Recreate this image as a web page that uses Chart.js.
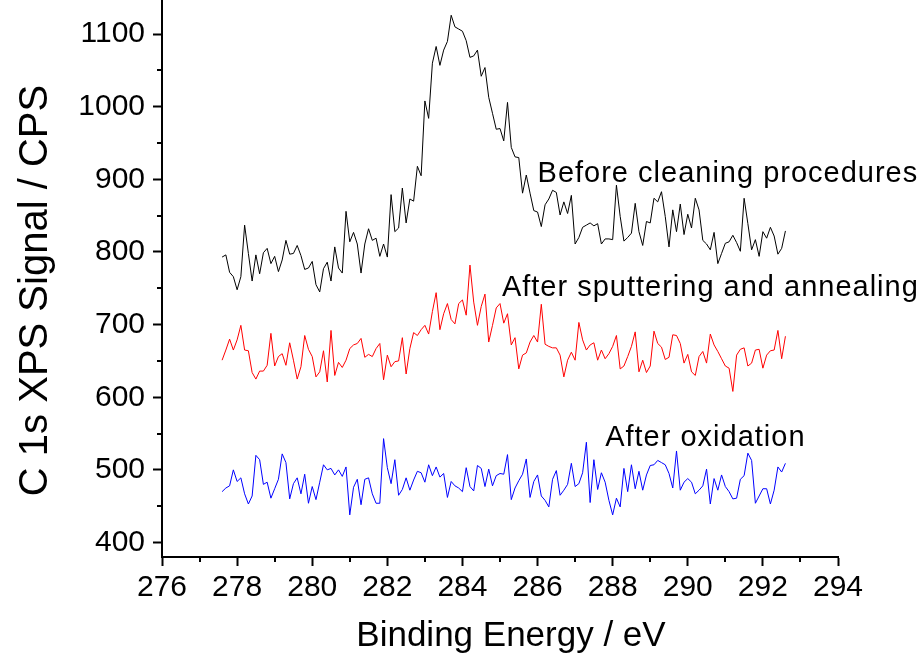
<!DOCTYPE html>
<html>
<head>
<meta charset="utf-8">
<script src="https://cdn.jsdelivr.net/npm/chart.js@4/dist/chart.umd.min.js"></script>
<style>
  html, body { margin: 0; padding: 0; background: #fff; }
  #c { display: block; }
</style>
</head>
<body>
<canvas id="c" width="921" height="659"></canvas>
<script>
// binding energy grid of the scans (eV)
const energyStart = 277.6;
const energyStep = 0.1;

// C 1s counts per second, one value per energy step
const beforeCleaning = [
  793, 796, 772, 766, 748, 766, 837, 798, 760, 796,
  770, 799, 805, 784, 794, 773, 789, 816, 797, 798,
  809, 795, 776, 778, 787, 755, 745, 777, 786, 760,
  807, 778, 771, 856, 814, 827, 811, 771, 811, 832,
  816, 819, 794, 811, 793, 879, 828, 833, 888, 840,
  873, 870, 918, 905, 1008, 984, 1060, 1083, 1057, 1078,
  1090, 1126, 1110, 1107, 1104, 1091, 1068, 1070, 1078, 1042,
  1054, 1013, 991, 969, 970, 953, 1006, 944, 931, 930,
  881, 906, 881, 857, 855, 835, 865, 873, 885, 882,
  851, 869, 853, 878, 811, 820, 834, 837, 840, 836,
  839, 811, 818, 818, 817, 892, 849, 815, 820, 826,
  867, 828, 809, 842, 840, 874, 869, 883, 849, 807,
  858, 828, 866, 824, 852, 833, 874, 858, 816, 811,
  803, 827, 784, 798, 812, 814, 823, 813, 801, 874,
  839, 803, 817, 794, 828, 819, 834, 822, 797, 805,
  829
];
const afterSputtering = [
  651, 665, 680, 665, 679, 699, 665, 664, 634, 625,
  636, 636, 644, 688, 643, 656, 660, 644, 675, 651,
  625, 642, 685, 666, 656, 628, 635, 664, 621, 692,
  630, 648, 641, 651, 667, 672, 674, 681, 655, 659,
  656, 667, 674, 624, 658, 642, 649, 650, 682, 632,
  667, 689, 685, 693, 699, 687, 718, 744, 693, 715,
  729, 707, 701, 729, 734, 713, 782, 731, 699, 725,
  742, 676, 699, 723, 729, 702, 715, 672, 682, 639,
  658, 661, 676, 685, 676, 728, 673, 670, 668, 668,
  658, 628, 651, 662, 651, 703, 679, 665, 672, 675,
  651, 665, 653, 660, 670, 685, 639, 643, 656, 670,
  690, 635, 651, 634, 643, 691, 674, 669, 652, 655,
  686, 685, 674, 647, 659, 635, 630, 656, 663, 647,
  687, 672, 663, 653, 643, 640, 608, 658, 666, 668,
  643, 647, 665, 666, 640, 658, 664, 665, 692, 653,
  684
];
const afterOxidation = [
  470, 475, 478, 500, 484, 489, 467, 453, 464, 520,
  514, 480, 483, 461, 474, 487, 522, 510, 460, 481,
  489, 467, 494, 454, 477, 459, 483, 507, 500, 502,
  493, 500, 491, 504, 438, 476, 487, 452, 487, 489,
  467, 454, 454, 543, 503, 481, 514, 465, 473, 489,
  472, 486, 498, 496, 483, 507, 492, 504, 490, 495,
  462, 484, 478, 475, 470, 503, 477, 471, 506, 502,
  477, 501, 478, 492, 495, 494, 521, 459, 475, 485,
  494, 515, 462, 484, 493, 464, 458, 449, 487, 499,
  465, 472, 480, 509, 477, 481, 496, 538, 455, 514,
  473, 496, 483, 458, 438, 461, 449, 502, 470, 507,
  474, 498, 472, 493, 506, 507, 513, 510, 507, 495,
  475, 526, 472, 483, 488, 483, 467, 472, 478, 501,
  453, 488, 472, 493, 477, 470, 460, 461, 487, 492,
  523, 513, 454, 464, 474, 474, 453, 472, 504, 497,
  509
];

const xTicks = [276, 278, 280, 282, 284, 286, 288, 290, 292, 294];
const xMinorTicks = [277, 279, 281, 283, 285, 287, 289, 291, 293];
const yTicks = [400, 500, 600, 700, 800, 900, 1000, 1100];
const yMinorTicks = [450, 550, 650, 750, 850, 950, 1050];

// curve labels, anchored in data units (left edge, baseline)
const curveLabels = [
  { text: 'Before cleaning procedures', x: 286.0, y: 896 },
  { text: 'After sputtering and annealing', x: 285.05, y: 739 },
  { text: 'After oxidation', x: 287.8, y: 533 }
];
const xTitle = 'Binding Energy / eV';
const yTitle = 'C 1s XPS Signal / CPS';

const FONT = '"Liberation Sans", Arial, sans-serif';

function toPoints(values){
  return values.map((v, i) => ({ x: +(energyStart + i * energyStep).toFixed(1), y: v }));
}
function series(values, color){
  return { data: toPoints(values), borderColor: color, borderWidth: 1, pointRadius: 0, tension: 0, fill: false };
}

const minorTicksAndLabels = {
  id: 'minorTicksAndLabels',
  afterDraw(chart){
    const { ctx, scales: { x, y } } = chart;
    ctx.save();
    ctx.strokeStyle = '#000';
    ctx.lineWidth = 2;
    ctx.beginPath();
    xMinorTicks.forEach(v => {
      const px = Math.round(x.getPixelForValue(v));
      ctx.moveTo(px, y.bottom); ctx.lineTo(px, y.bottom + 5);
    });
    yMinorTicks.forEach(v => {
      const py = Math.round(y.getPixelForValue(v));
      ctx.moveTo(x.left, py); ctx.lineTo(x.left - 5, py);
    });
    ctx.stroke();
    ctx.fillStyle = '#000';
    ctx.font = '29px ' + FONT;
    ctx.letterSpacing = '1px';
    ctx.textBaseline = 'alphabetic';
    ctx.textAlign = 'left';
    curveLabels.forEach(l => ctx.fillText(l.text, x.getPixelForValue(l.x), y.getPixelForValue(l.y)));
    // axis titles, placed as in the original (slightly off the axis middles)
    ctx.letterSpacing = '0px';
    ctx.textAlign = 'center';
    ctx.textBaseline = 'middle';
    ctx.font = '35px ' + FONT;
    ctx.fillText(xTitle, (x.left + x.right) / 2 + 11, 636);
    ctx.translate(36, (y.top + y.bottom) / 2 + 12);
    ctx.rotate(-Math.PI / 2);
    ctx.font = '40px ' + FONT;
    ctx.fillText(yTitle, 0, 0);
    ctx.restore();
  }
};

const axisGrid = { display: true, drawOnChartArea: false, drawTicks: true, tickLength: 9, tickWidth: 2, tickColor: '#000' };
const axisBorder = { display: true, width: 2, color: '#000' };

new Chart(document.getElementById('c'), {
  type: 'line',
  data: {
    datasets: [
      series(beforeCleaning, '#000000'),
      series(afterSputtering, '#ff0000'),
      series(afterOxidation, '#0000ff')
    ]
  },
  options: {
    responsive: false,
    animation: false,
    devicePixelRatio: 1,
    layout: { padding: { left: 0, right: 83, top: 0, bottom: 0 } },
    plugins: { legend: { display: false }, tooltip: { enabled: false } },
    scales: {
      x: {
        type: 'linear', min: 276, max: 294,
        afterBuildTicks: s => { s.ticks = xTicks.map(v => ({ value: v })); },
        afterFit: s => { s.height = 102; s.paddingLeft = 0; s.paddingRight = 0; },
        grid: axisGrid, border: axisBorder,
        ticks: { color: '#000', padding: 4, maxRotation: 0, font: { family: FONT, size: 30 }, callback: v => String(v) },
        title: { display: false }
      },
      y: {
        type: 'linear', min: 380, max: 1147,
        afterBuildTicks: s => { s.ticks = yTicks.map(v => ({ value: v })); },
        afterFit: s => { s.width = 162; s.paddingTop = 0; s.paddingBottom = 0; },
        grid: axisGrid, border: axisBorder,
        ticks: { color: '#000', padding: 8, font: { family: FONT, size: 30 }, callback: v => String(v) },
        title: { display: false }
      }
    }
  },
  plugins: [minorTicksAndLabels]
});
</script>
</body>
</html>
